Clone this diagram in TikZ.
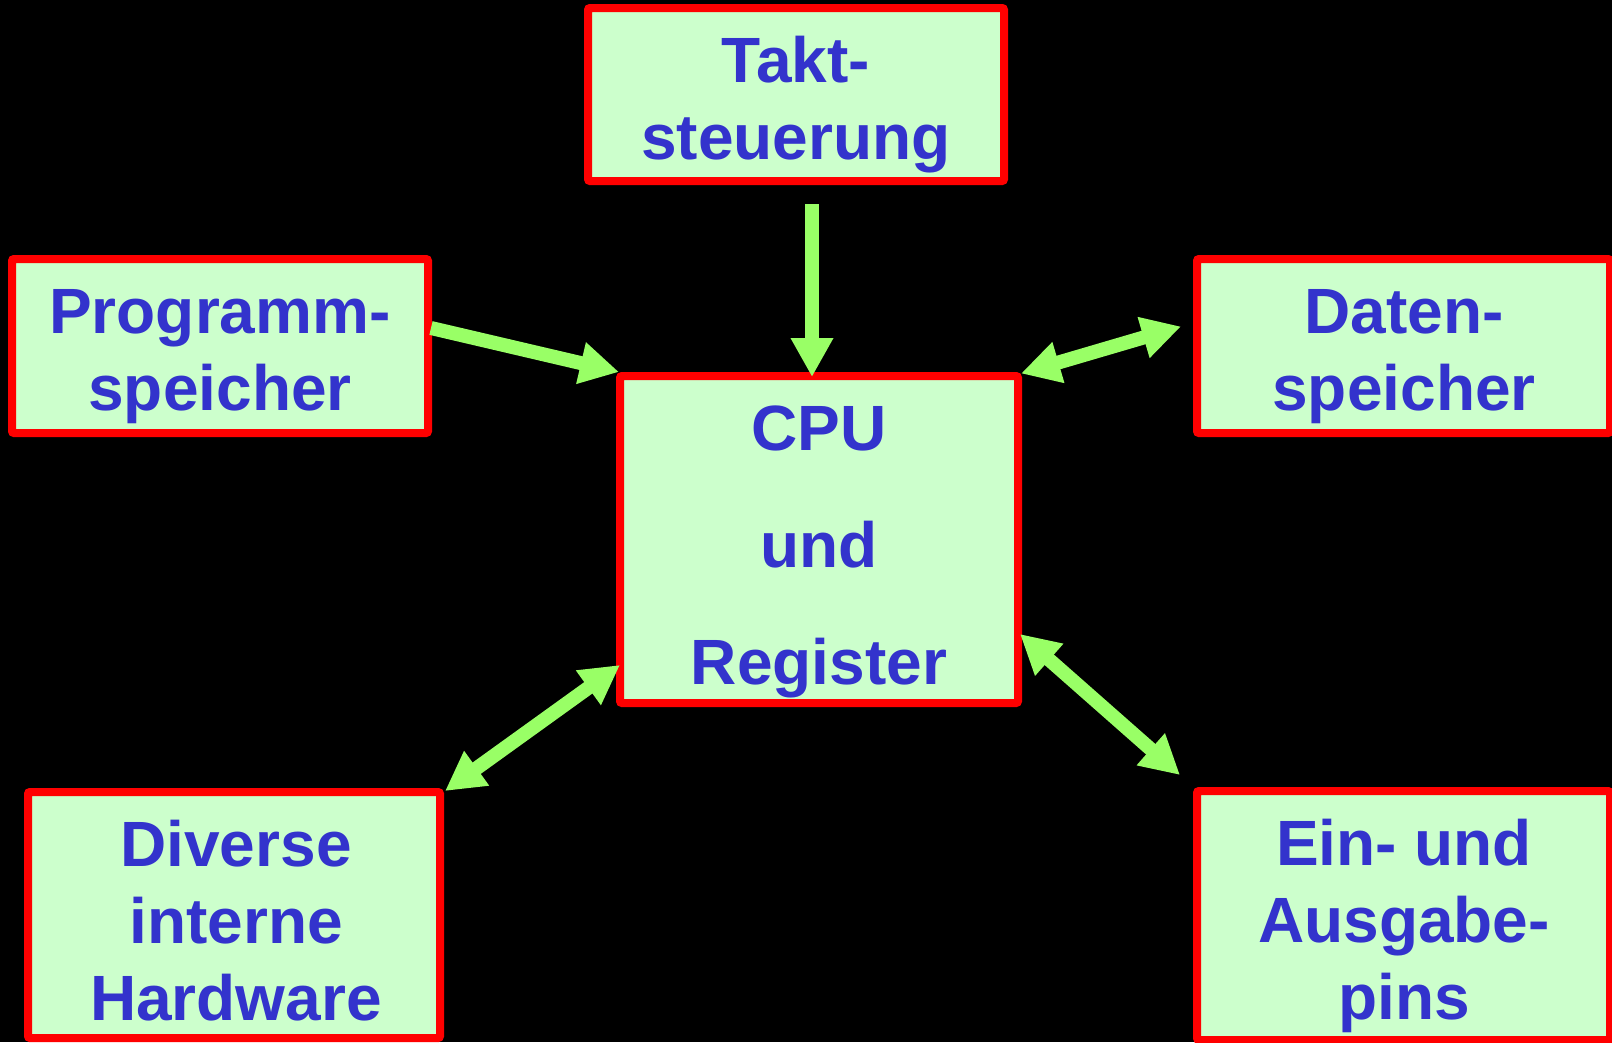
\documentclass[tikz,border=0pt]{standalone}
\usepackage{fontspec}
\setmainfont{Liberation Sans}
\usetikzlibrary{arrows.meta}
\definecolor{boxfill}{HTML}{CCFFCC}
\definecolor{boxline}{HTML}{FF0000}
\definecolor{labelblue}{HTML}{3333CC}
\definecolor{flow}{HTML}{99FF66}

\begin{document}
\begin{tikzpicture}[x=1pt,y=-1pt,
  unitbox/.style={draw=boxline, fill=boxfill, line width=8pt, rounded corners=2pt,
                  inner sep=0pt, rectangle},
  caption/.style={anchor=base, inner sep=0pt, align=center, text=labelblue,
                  font=\fontsize{64}{77}\selectfont\bfseries},
  onehead/.style={draw=flow, line width=14pt,
                  -{Triangle[width=40pt,length=39pt]}},
  twohead/.style={draw=flow, line width=14pt,
                  {Triangle[width=40pt,length=39pt]}-{Triangle[width=40pt,length=39pt]}}]

% canvas
\useasboundingbox (0,0) rectangle (1612,1042);
\fill[black] (0,0) rectangle (1612,1042);

% blocks
\node[unitbox, minimum width=416pt, minimum height=173pt] (takt)  at (796,94.5)   {};
\node[unitbox, minimum width=416pt, minimum height=174pt] (prog)  at (220,346)    {};
\node[unitbox, minimum width=398pt, minimum height=327pt] (cpu)   at (819,539.5)  {};
\node[unitbox, minimum width=413pt, minimum height=174pt] (daten) at (1403.5,346) {};
\node[unitbox, minimum width=412pt, minimum height=246pt] (div)   at (234,915)    {};
\node[unitbox, minimum width=413pt, minimum height=249pt] (ein)   at (1403.5,915.5) {};

% block captions (anchored at the baseline of the last line)
\node[caption] (takt-t)  at (796,159)  {Takt-\\steuerung};
\node[caption] (prog-t)  at (220,410)  {Programm-\\speicher};
\node[caption, font=\fontsize{64}{117}\selectfont\bfseries] (cpu-t) at (819,684) {CPU\\und\\Register};
\node[caption] (daten-t) at (1404,410) {Daten-\\speicher};
\node[caption] (div-t)   at (236,1020) {Diverse\\interne\\Hardware};
\node[caption] (ein-t)   at (1404,1019) {Ein- und\\Ausgabe-\\pins};

% connections
\draw[onehead] ([shift={(16,19)}]takt.south) -- ([shift={(-7,5)}]cpu.north);
\draw[onehead] ([shift={(-1,-18)}]prog.east) -- ([shift={(3,0)}]cpu.north west);
\draw[twohead] ([shift={(-1,1.5)}]cpu.north east) -- ([shift={(-12,-19.5)}]daten.west);
\draw[twohead] ([shift={(1,3)}]div.north east) -- ([shift={(4,-42)}]cpu.south west);
\draw[twohead] ([shift={(-2,-73)}]cpu.south east) -- ([shift={(-13,-12)}]ein.north west);
\end{tikzpicture}
\end{document}
